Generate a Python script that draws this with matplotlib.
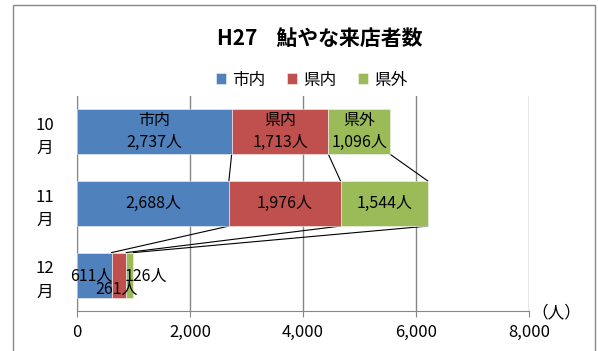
import matplotlib
matplotlib.use("Agg")
import matplotlib.pyplot as plt
import numpy as np
from matplotlib.patches import Rectangle

plt.rcParams['font.family'] = ['Noto Sans CJK JP', 'DejaVu Sans']

# data
months = ['10\n月', '11\n月', '12\n月']
series = ['市内', '県内', '県外']
shinai = [2737, 2688, 611]
kennai = [1713, 1976, 261]
kengai = [1096, 1544, 126]
colors = ['#4F81BD', '#C0504D', '#9BBB59']
xticks = [0, 2000, 4000, 6000, 8000]

values = np.array([shinai, kennai, kengai])  # series x month
cum = np.cumsum(values, axis=0)
starts = cum - values

fig = plt.figure(figsize=(5.98, 3.51), dpi=100)
ax = fig.add_axes([77 / 598, 1 - 311 / 351, 452 / 598, 215 / 351])

y = np.arange(len(months))
h = 0.63
for s in range(len(series)):
    ax.barh(y, values[s], left=starts[s], height=h, color=colors[s],
            edgecolor='#f4f4f4', lw=0.4, label=series[s], zorder=3)

# series lines between bars
for i in range(len(months) - 1):
    for s in range(len(series)):
        ax.plot([cum[s, i], cum[s, i + 1]], [i + h / 2, i + 1 - h / 2],
                color='black', lw=0.8, zorder=2)

# data labels (first month also shows the series name, last month is hand placed)
for i in range(len(months)):
    for s in range(len(series)):
        cx = starts[s, i] + values[s, i] / 2
        txt = f'{values[s, i]:,}人'
        if i == 0:
            txt = series[s] + '\n' + txt
        off = (0, 0)
        if i == 2:
            off = [(-2, -1), (-1.5, -10.5), (11.3, -1)][s]
        ax.annotate(txt, (cx, i), xytext=off, textcoords='offset points',
                    ha='center', va='center', fontsize=11.5, zorder=5,
                    linespacing=1.4)

ax.set_xlim(0, 8000)
ax.set_ylim(len(months) - 0.5, -0.5)
ax.set_xticks(xticks)
ax.set_xticklabels([f'{t:,}' for t in xticks], fontsize=12)
ax.set_yticks(y)
ax.set_yticklabels(months, fontsize=12, ha='center', linespacing=1.5)
ax.tick_params(axis='y', length=0, pad=23)
ax.tick_params(axis='x', length=4.5, color='#868686', pad=5)
ax.grid(axis='x', color='#868686', lw=1, zorder=0)
for sp in ['top', 'right']:
    ax.spines[sp].set_visible(False)
for sp in ['left', 'bottom']:
    ax.spines[sp].set_color('#868686')

fig.text(556 / 598, 1 - 313 / 351, '（人）', ha='center', va='center', fontsize=12)

fig.text(320 / 598, 1 - 38 / 351, 'H27    鮎やな来店者数', ha='center', va='center',
         fontsize=15, fontweight='bold')

fig.legend(loc='center', bbox_to_anchor=(312 / 598, 1 - 80 / 351), ncol=3,
           frameon=False, fontsize=12, handlelength=0.6, handleheight=0.6,
           handletextpad=0.36, columnspacing=1.3)

fig.patches.append(Rectangle((13 / 598, -0.05), 582 / 598, 1.036,
                             transform=fig.transFigure, fill=False,
                             edgecolor='#888888', lw=1))

fig.savefig('out.png', dpi=100)
